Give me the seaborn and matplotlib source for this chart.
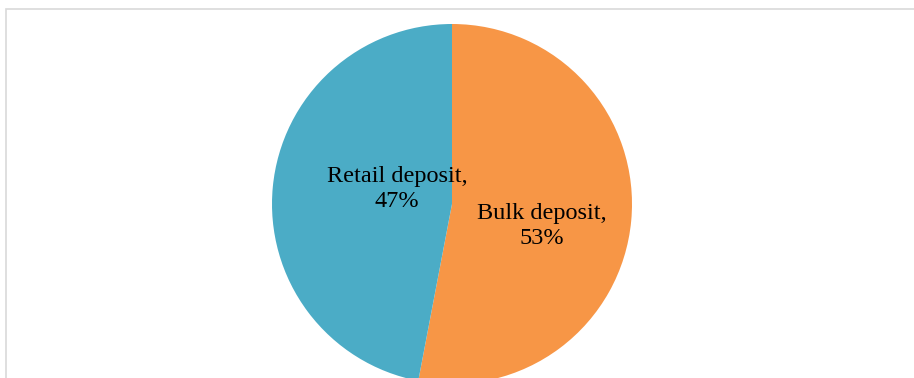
import matplotlib
matplotlib.use("Agg")
import matplotlib.pyplot as plt
from matplotlib.patches import Rectangle
import seaborn as sns

# Deposit mix
categories = ["Bulk deposit", "Retail deposit"]
shares = [53, 47]
colors = ["#F79646", "#4BACC6"]

sns.set_theme(style="white")
plt.rcParams["font.family"] = ["Liberation Serif", "DejaVu Serif"]

W, H = 914, 378
fig = plt.figure(figsize=(W / 100, H / 100), dpi=100)
fig.patch.set_facecolor("white")

# light frame around the chart area
fig.add_artist(Rectangle((5.5 / W, -0.1), 1.2, 1 - 8.5 / H + 0.1,
                         transform=fig.transFigure, fill=False,
                         edgecolor="#D9D9D9", linewidth=1.2))

cx, cy, r = 452, 204, 180
ax = fig.add_axes([(cx - r) / W, (H - cy - r) / H, 2 * r / W, 2 * r / H])

wedges, _ = ax.pie(shares, colors=colors, startangle=90, counterclock=False,
                   radius=1, wedgeprops=dict(linewidth=0))
ax.set_xlim(-1, 1)
ax.set_ylim(-1, 1)
ax.set_aspect("equal")
ax.axis("off")

label_pos = [(0.50, -0.122), (-0.305, 0.083)]
for name, val, (lx, ly) in zip(categories, shares, label_pos):
    ax.text(lx, ly, f"{name},\n{val}%", ha="center", va="center",
            fontsize=17.5, color="black", linespacing=1.3)

fig.savefig("out.png", dpi=100)
